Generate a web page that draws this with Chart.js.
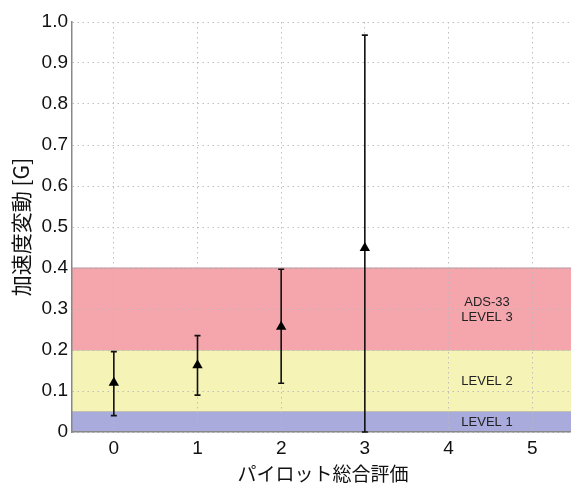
<!DOCTYPE html>
<html>
<head>
<meta charset="utf-8">
<script src="https://cdn.jsdelivr.net/npm/chart.js@4.4.1/dist/chart.umd.min.js"></script>
<style>
  html, body { margin: 0; padding: 0; background: #fff; overflow: hidden; }
  #wrap { width: 571px; height: 485px; overflow: hidden; }
  canvas { display: block; }
</style>
</head>
<body>
<div id="wrap"><canvas id="c" width="600" height="485"></canvas></div>
<script>
// Pilot overall rating vs. acceleration variation (mean with min/max range)
const ratings = [0, 1, 2, 3];
const meanAccel = [0.12, 0.163, 0.257, 0.449];
const upperAccel = [0.196, 0.235, 0.397, 0.968];
const lowerAccel = [0.04, 0.09, 0.119, 0.0];

const xTicks = [0, 1, 2, 3, 4, 5];
const yTicks = [0, 0.1, 0.2, 0.3, 0.4, 0.5, 0.6, 0.7, 0.8, 0.9, 1.0];
const yTickLabels = ['0', '0.1', '0.2', '0.3', '0.4', '0.5', '0.6', '0.7', '0.8', '0.9', '1.0'];

// ADS-33 handling-quality bands
const bandLower = [0, 0.05, 0.2];
const bandUpper = [0.05, 0.2, 0.4];
const bandLabels = [['LEVEL 1'], ['LEVEL 2'], ['ADS-33', 'LEVEL 3']];
const bandFill = ['rgb(169,171,220)', 'rgb(246,243,182)', 'rgb(245,166,173)'];
const bandEdge = ['rgb(140,142,170)', 'rgb(190,175,160)', 'rgb(190,145,160)'];
const bandLabelX = 4.46;

const bandsPlugin = {
  id: 'bands',
  beforeDraw(chart) {
    const { ctx, chartArea: a, scales: { y } } = chart;
    ctx.save();
    for (let i = 0; i < bandLower.length; i++) {
      const yTop = y.getPixelForValue(bandUpper[i]);
      const yBot = y.getPixelForValue(bandLower[i]);
      ctx.fillStyle = bandFill[i];
      ctx.fillRect(a.left, yTop, a.right - a.left, yBot - yTop);
      ctx.strokeStyle = bandEdge[i];
      ctx.lineWidth = 1.2;
      ctx.beginPath();
      ctx.moveTo(a.left, yTop);
      ctx.lineTo(a.right, yTop);
      ctx.stroke();
    }
    ctx.restore();
  },
  afterDatasetsDraw(chart) {
    const { ctx, scales: { x, y } } = chart;
    ctx.save();
    ctx.font = '13px "Liberation Sans", Arial, sans-serif';
    ctx.fillStyle = '#222';
    ctx.textAlign = 'center';
    ctx.textBaseline = 'middle';
    const lh = 15;
    for (let i = 0; i < bandLabels.length; i++) {
      const lines = bandLabels[i];
      const cx = x.getPixelForValue(bandLabelX);
      const cy = y.getPixelForValue((bandLower[i] + bandUpper[i]) / 2) + 1;
      lines.forEach((t, k) => {
        ctx.fillText(t, cx, cy + (k - (lines.length - 1) / 2) * lh);
      });
    }
    ctx.restore();
  }
};

const errorBarPlugin = {
  id: 'errorBars',
  beforeDatasetsDraw(chart) {
    const { ctx, scales: { x, y } } = chart;
    ctx.save();
    ctx.strokeStyle = '#111';
    ctx.lineWidth = 1.6;
    const cap = 3;
    for (let i = 0; i < ratings.length; i++) {
      const px = x.getPixelForValue(ratings[i]);
      const pt = y.getPixelForValue(upperAccel[i]);
      const pb = y.getPixelForValue(lowerAccel[i]);
      ctx.beginPath();
      ctx.moveTo(px, pt); ctx.lineTo(px, pb);
      ctx.moveTo(px - cap, pt); ctx.lineTo(px + cap, pt);
      ctx.moveTo(px - cap, pb); ctx.lineTo(px + cap, pb);
      ctx.stroke();
    }
    ctx.restore();
  }
};

const gridColor = 'rgba(185,185,185,0.9)';

new Chart(document.getElementById('c'), {
  type: 'scatter',
  data: {
    datasets: [{
      data: ratings.map((r, i) => ({ x: r, y: meanAccel[i] })),
      pointStyle: 'triangle',
      pointRadius: 6,
      pointHoverRadius: 6,
      backgroundColor: '#000',
      borderColor: '#000',
      borderWidth: 0
    }]
  },
  plugins: [bandsPlugin, errorBarPlugin],
  options: {
    responsive: false,
    animation: false,
    devicePixelRatio: 1,
    layout: { padding: { top: 22, right: 26, bottom: 0, left: 0 } },
    plugins: { legend: { display: false }, tooltip: { enabled: false } },
    scales: {
      x: {
        type: 'linear',
        min: -0.5,
        max: 5.5,
        afterBuildTicks: s => { s.ticks = xTicks.map(v => ({ value: v })); },
        afterFit: s => { s.height = 53; },
        ticks: {
          color: '#111',
          padding: 5,
          font: { family: '"Liberation Sans", Arial, sans-serif', size: 19 },
          callback: v => String(v)
        },
        grid: { color: gridColor, lineWidth: 1, drawTicks: false },
        border: { display: true, color: '#888', width: 1.5, dash: [1.5, 3.5] },
        title: {
          display: true,
          text: 'パイロット総合評価',
          color: '#111',
          padding: { top: 0, bottom: 0 },
          font: { family: '"Noto Sans CJK JP", sans-serif', size: 19 }
        }
      },
      y: {
        min: 0,
        max: 1,
        afterBuildTicks: s => { s.ticks = yTicks.map(v => ({ value: v })); },
        afterFit: s => { s.width = 72; },
        ticks: {
          color: '#111',
          padding: 4,
          font: { family: '"Liberation Sans", Arial, sans-serif', size: 19 },
          callback: (v, i) => yTickLabels[i]
        },
        grid: { color: gridColor, lineWidth: 1, drawTicks: false },
        border: { display: true, color: '#888', width: 1.5, dash: [1.5, 3.5] },
        title: {
          display: true,
          text: '加速度変動 [G]',
          color: '#111',
          padding: { top: 8, bottom: 0 },
          font: { family: '"Noto Sans CJK JP", sans-serif', size: 21 }
        }
      }
    }
  }
});
</script>
</body>
</html>
